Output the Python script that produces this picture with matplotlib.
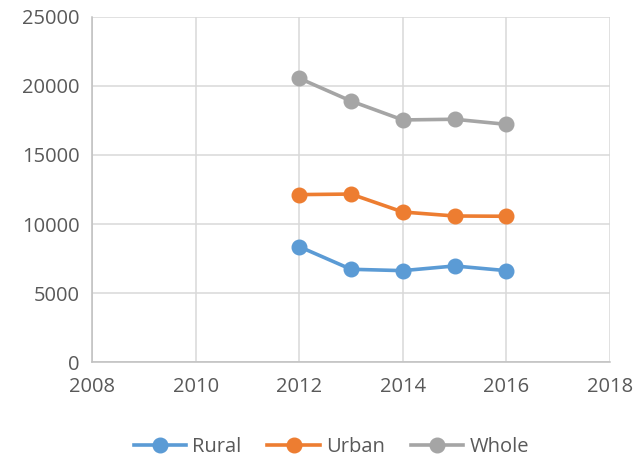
import matplotlib
matplotlib.use("Agg")
import matplotlib.pyplot as plt

years = [2012, 2013, 2014, 2015, 2016]
rural = [8360, 6720, 6620, 6960, 6620]
urban = [12130, 12170, 10870, 10580, 10560]
whole = [20560, 18910, 17540, 17590, 17220]

series = [("Rural", rural, "#5B9BD5"),
          ("Urban", urban, "#ED7D31"),
          ("Whole", whole, "#A5A5A5")]

plt.rcParams['font.family'] = ['Open Sans', 'DejaVu Sans']

fig = plt.figure(figsize=(6.37, 4.59), dpi=100)
ax = fig.add_axes([0.1444, 0.2113, 0.8132, 0.7517])

for name, vals, col in series:
    ax.plot(years, vals, '-o', color=col, lw=2.6, ms=10.5, label=name)

ax.set_xlim(2008, 2018)
ax.set_ylim(0, 25000)
ax.set_xticks(range(2008, 2019, 2))
ax.set_yticks(range(0, 25001, 5000))
ax.grid(color='#d9d9d9', lw=1.1)
ax.set_axisbelow(True)
for s in ['top', 'right']:
    ax.spines[s].set_visible(False)
for s in ['left', 'bottom']:
    ax.spines[s].set_color('#bfbfbf')
    ax.spines[s].set_linewidth(1.1)
ax.tick_params(length=0, colors='#595959', labelsize=14.5)
ax.tick_params(axis='x', pad=11)
ax.tick_params(axis='y', pad=9)

fig.legend(loc='lower center', ncol=3, frameon=False, fontsize=14.5,
           bbox_to_anchor=(0.52, -0.035), handlelength=2.6, columnspacing=1.3,
           handletextpad=0.3, labelcolor='#595959')

fig.savefig('out.png', dpi=100)
